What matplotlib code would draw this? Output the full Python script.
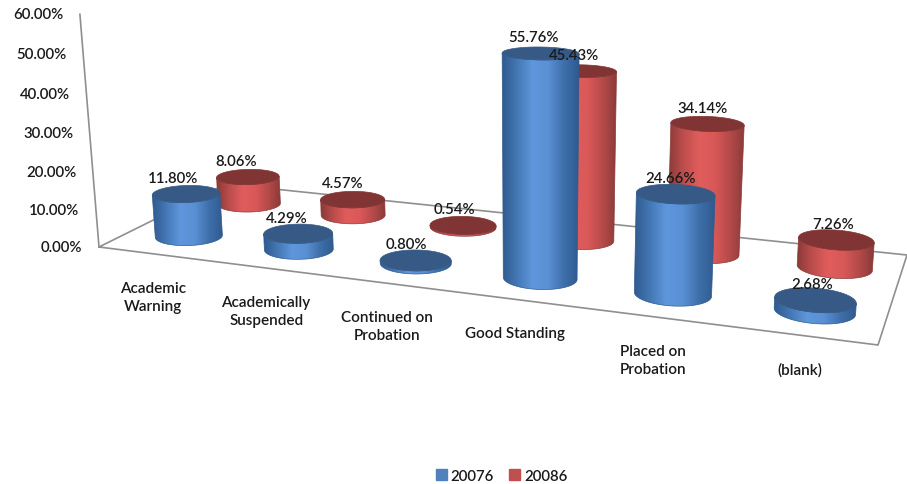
import numpy as np
import matplotlib
matplotlib.use("Agg")
import matplotlib.pyplot as plt
from matplotlib.colors import LinearSegmentedColormap
from matplotlib.patches import Patch, Polygon

categories = ["Academic\nWarning", "Academically\nSuspended", "Continued on\nProbation",
              "Good Standing", "Placed on\nProbation", "(blank)"]
series_names = ["20076", "20086"]
values_20076 = [11.80, 4.29, 0.80, 55.76, 24.66, 2.68]
values_20086 = [8.06, 4.57, 0.54, 45.43, 34.14, 7.26]
y_ticks = [0, 10, 20, 30, 40, 50, 60]

plt.rcParams["font.family"] = ["Lato", "DejaVu Sans"]
TEXT = "#1a1a1a"
GRID = "#8f8f8f"

# floor corners in pixels: front left, front right, back right, back left
x0, y0 = 99, 248
x1, y1 = 878, 346
x2, y2 = 907, 256
x3, y3 = 226, 185

# 3d view, solved from the four floor corners
dx1, dx2, sx = x1 - x2, x3 - x2, x0 - x1 + x2 - x3
dy1, dy2, sy = y1 - y2, y3 - y2, y0 - y1 + y2 - y3
den = dx1 * dy2 - dx2 * dy1
g = (sx * dy2 - dx2 * sy) / den
h = (dx1 * sy - sx * dy1) / den
a, b = x1 - x0 + g * x1, x3 - x0 + h * x3
d, e = y1 - y0 + g * y1, y3 - y0 + h * y3
# height column, verticals meet far below the chart
z_w = -0.00069
z_x, z_y = 530 * z_w, 5500 * z_w
WALL_STRETCH = 1.025
GRADIENT = np.linspace(0, 1, 256).reshape(1, -1)


def project(cat, depth, z=0.0):
    # cat runs 0-6 across the floor, depth 0-2 to the back, z in percent
    u = np.asarray(cat) / 6.0
    v = np.asarray(depth) / 2.0
    w = g * u + h * v + 1 + z * z_w
    return (a * u + b * v + x0 + z * z_x) / w, (d * u + e * v + y0 + z * z_y) / w


def cylinder(ax, cat, depth, value, side_cmap, edge_color, top_color, zorder):
    theta = np.linspace(0, 2 * np.pi, 241)
    cu = cat + 0.275 * np.cos(theta)
    cv = depth + 0.25 * np.sin(theta)
    bx, by = project(cu, cv, 0)
    tx, ty = project(cu, cv, value)

    # visible side runs between the two silhouette points along the front
    i_left, i_right = int(np.argmin(bx)), int(np.argmax(bx))
    idx = np.arange(i_left, i_right + 1 if i_right > i_left else i_right + 242) % 241
    outline = np.column_stack([np.r_[bx[idx], tx[idx][::-1]], np.r_[by[idx], ty[idx][::-1]]])

    # horizontal gradient cut to the side outline
    patch = Polygon(outline, closed=True, facecolor="none", edgecolor=edge_color,
                    lw=0.5, zorder=zorder + 0.05)
    ax.add_patch(patch)
    left, right = outline[:, 0].min(), outline[:, 0].max()
    img = ax.imshow(GRADIENT, cmap=side_cmap, aspect="auto", zorder=zorder,
                    extent=(left, right, outline[:, 1].max(), outline[:, 1].min()))
    img.set_clip_path(patch)
    ax.fill(tx, ty, color=top_color, lw=0.5, zorder=zorder + 0.1)
    return project(cat, depth, value)


fig = plt.figure(figsize=(9.07, 4.85), dpi=100)
ax = fig.add_axes([0, 0, 1, 1])
ax.axis("off")

# floor and the left wall edge
ax.plot([x0, x1, x2, x3, x0], [y0, y1, y2, y3, y0], color=GRID, lw=1.2, zorder=1)
wx, wy = project([0, 0], [0, 0], np.array([0, 60]) * WALL_STRETCH)
ax.plot(wx, wy, color=GRID, lw=1.2, zorder=1)

for t in y_ticks:
    px, py = project(0, 0, t * WALL_STRETCH)
    ax.text(px - 16.5, py, f"{t:.2f}%", ha="right", va="center", fontsize=10.8,
            color=TEXT, fontweight="semibold")

blue_side = LinearSegmentedColormap.from_list("blue_side", ["#2f5a8e", "#4478b5", "#5f97dc", "#5a90d4", "#3f70ab", "#2f5a8e"])
red_side = LinearSegmentedColormap.from_list("red_side", ["#8a3a39", "#bd4e4d", "#e05d5c", "#d95958", "#b54b4a", "#8a3a39"])
styles = [(values_20076, 0.5, blue_side, "#2f5a8e", "#365a85"),
          (values_20086, 1.5, red_side, "#8a3a39", "#803534")]

labels = []
# back row first so the front row covers it
for vals, depth, cmap, edge, top in styles[::-1]:
    for i, val in enumerate(vals):
        px, py = cylinder(ax, i + 0.52, depth, val, cmap, edge, top, 3 if depth > 1 else 5)
        labels.append((px, py, val))

for px, py, val in labels:
    ax.text(px - 13 + 0.016 * (px - 187), py - 16, f"{val:.2f}%", ha="center", va="center",
            fontsize=10.8, color=TEXT, fontweight="semibold", zorder=8)

for i, name in enumerate(categories):
    px, py = project(i + 0.5, 0)
    ax.text(px, py + 27, name, ha="center", va="top", fontsize=11, color=TEXT,
            fontweight="semibold", linespacing=1.35)

handles = [Patch(color="#4f81bd"), Patch(color="#c0504d")]
ax.legend(handles, series_names, loc="center", bbox_to_anchor=(0.553, 0.017), ncol=2,
          frameon=False, handlelength=0.75, handleheight=0.75,
          handletextpad=0.25, columnspacing=1.0, labelcolor=TEXT,
          prop={"size": 10.8, "weight": "semibold"})

ax.set_xlim(0, 907)
ax.set_ylim(485, 0)
fig.savefig("out.png", dpi=100)
